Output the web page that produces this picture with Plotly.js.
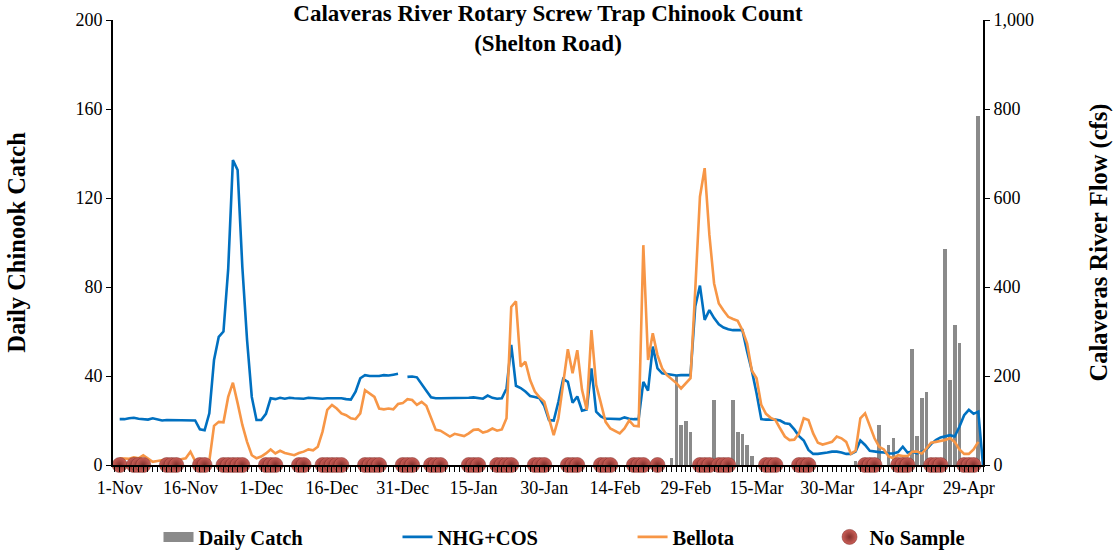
<!DOCTYPE html>
<html><head><meta charset="utf-8">
<script src="https://cdn.plot.ly/plotly-3.0.1.min.js"></script>
<style>html,body{margin:0;padding:0;background:#fff}#chart{width:1113px;height:550px}</style>
</head><body><div id="chart"></div>
<script>
// ---- Data ----
const startDate = '2019-11-01';

// Daily flow, NHG+COS gauge (cfs), one value per day from 1-Nov
const nhgCos = [
  103,103,105,106,104,103,102,105,103,100,
  101,101,101,100,101,101,100,80,78,116,
  236,288,300,440,685,663,445,281,153,101,
  101,115,150,148,151,149,151,150,150,149,
  151,150,150,149,150,150,150,150,148,147,
  165,195,202,200,200,200,202,201,203,205,
  null,198,199,197,183,167,152,150,150,150,
  150,150,150,150,151,152,150,149,156,151,
  149,150,172,270,178,173,165,155,153,150,
  133,101,100,142,193,187,140,154,122,125,
  217,120,109,104,104,104,103,107,104,103,
  103,187,167,266,217,206,204,203,201,202,
  202,202,356,403,326,348,330,316,309,305,
  303,303,303,255,212,161,103,102,102,102,
  100,94,92,80,65,55,34,25,25,26,
  28,30,30,28,25,25,30,55,45,32,
  30,29,28,26,26,29,41,28,30,26,
  30,35,47,56,62,64,67,64,86,112,
  124,115,120,0
];

// Daily flow, Bellota gauge (cfs)
const bellota = [
  15,15,14,17,15,22,15,7,9,11,
  13,11,9,13,15,30,9,7,9,9,
  88,97,96,153,185,139,90,52,22,15,
  19,26,35,26,32,27,25,22,27,30,
  35,33,41,75,124,135,127,116,112,105,
  103,116,168,160,153,127,125,127,125,137,
  139,148,146,135,142,133,107,79,77,71,
  64,70,67,65,71,79,80,73,76,82,
  77,80,105,355,368,221,232,191,165,152,
  142,105,67,105,184,260,206,258,169,124,
  303,180,139,97,82,76,71,82,100,88,
  87,494,236,296,247,217,202,193,184,172,
  184,195,393,603,667,517,408,363,347,333,
  328,324,303,273,212,195,135,115,106,101,
  82,64,56,57,71,105,101,71,50,46,
  49,52,64,60,52,25,32,105,116,86,
  60,41,35,19,15,22,20,20,30,30,
  26,37,50,52,54,56,60,52,35,25,
  25,35,52
];

// Daily Chinook catch (fish)
const catchDates = [
  '2020-02-26','2020-02-27','2020-02-28','2020-02-29','2020-03-01',
  '2020-03-06','2020-03-10','2020-03-11','2020-03-12','2020-03-13','2020-03-14',
  '2020-04-05','2020-04-10','2020-04-12','2020-04-13',
  '2020-04-17','2020-04-18','2020-04-19','2020-04-20',
  '2020-04-24','2020-04-25','2020-04-26','2020-04-27','2020-05-01'
];
const catchValues = [
  3,40,18,20,15,
  29,29,15,14,9,4,
  2,18,9,12,
  52,13,30,33,
  97,38,63,55,157
];

// Days with no sample
const noSampleDates = [
  '2019-11-01','2019-11-04','2019-11-05','2019-11-06',
  '2019-11-11','2019-11-12','2019-11-13','2019-11-18','2019-11-19',
  '2019-11-23','2019-11-24','2019-11-25','2019-11-26','2019-11-27',
  '2019-12-02','2019-12-03','2019-12-04','2019-12-09','2019-12-10',
  '2019-12-14','2019-12-15','2019-12-16','2019-12-17','2019-12-18',
  '2019-12-23','2019-12-24','2019-12-25','2019-12-26',
  '2019-12-31','2020-01-01','2020-01-02',
  '2020-01-06','2020-01-07','2020-01-08',
  '2020-01-14','2020-01-15','2020-01-16',
  '2020-01-20','2020-01-21','2020-01-22','2020-01-23',
  '2020-01-28','2020-01-29','2020-01-30',
  '2020-02-04','2020-02-05','2020-02-06',
  '2020-02-11','2020-02-12','2020-02-13',
  '2020-02-18','2020-02-19','2020-02-20','2020-02-23',
  '2020-03-03','2020-03-04','2020-03-05','2020-03-07','2020-03-08','2020-03-09',
  '2020-03-17','2020-03-18','2020-03-19',
  '2020-03-24','2020-03-25','2020-03-26',
  '2020-04-07','2020-04-08','2020-04-09',
  '2020-04-14','2020-04-15','2020-04-16',
  '2020-04-21','2020-04-22','2020-04-23',
  '2020-04-28','2020-04-29','2020-04-30'
];

const tickDates = ['2019-11-01','2019-11-16','2019-12-01','2019-12-16','2019-12-31','2020-01-15',
  '2020-01-30','2020-02-14','2020-02-29','2020-03-15','2020-03-30','2020-04-14','2020-04-29'];
const tickLabels = ['1-Nov','16-Nov','1-Dec','16-Dec','31-Dec','15-Jan','30-Jan','14-Feb',
  '29-Feb','15-Mar','30-Mar','14-Apr','29-Apr'];

// ---- Build daily date categories ----
function dayString(offset) {
  const p = startDate.split('-').map(Number);
  const d = new Date(Date.UTC(p[0], p[1] - 1, p[2] + offset));
  return d.toISOString().slice(0, 10);
}
const flowDates = nhgCos.map((_, i) => dayString(i));
const bellotaDates = bellota.map((_, i) => dayString(i));

const FONT = 'Liberation Serif, Times New Roman, serif';
const DAY = 86400000;

const traces = [
  {
    type: 'bar', name: 'Daily Catch', x: catchDates, y: catchValues, yaxis: 'y',
    width: 0.78 * DAY, marker: { color: '#8a8a8a', line: { width: 0 } },
    showlegend: false
  },
  {
    // legend entry for the bars (wide grey swatch as in the reference)
    type: 'scatter', mode: 'lines', name: 'Daily Catch', x: [null], y: [null], yaxis: 'y',
    line: { color: '#8a8a8a', width: 10 }, legend: 'legend', hoverinfo: 'skip'
  },
  {
    type: 'scatter', mode: 'lines', name: 'NHG+COS', x: flowDates, y: nhgCos, yaxis: 'y2',
    line: { color: '#0070c0', width: 2.6 }, connectgaps: false, legend: 'legend2'
  },
  {
    type: 'scatter', mode: 'lines', name: 'Bellota', x: bellotaDates, y: bellota, yaxis: 'y2',
    line: { color: '#f79646', width: 2.6 }, legend: 'legend3'
  },
  {
    type: 'scatter', mode: 'markers', name: 'No Sample', x: noSampleDates,
    y: noSampleDates.map(() => 0), yaxis: 'y2', cliponaxis: false,
    marker: { size: 15, color: '#cc5f58', gradient: { type: 'radial', color: '#82302c' },
              line: { width: 0.5, color: '#7a2c28' } },
    legend: 'legend4'
  }
];

const legendBase = (x) => ({
  x: x, y: -0.162, xanchor: 'left', yanchor: 'middle', orientation: 'h',
  bgcolor: 'rgba(0,0,0,0)', font: { family: FONT, size: 20.5, color: '#000', weight: 'bold' }
});

const layout = {
  width: 1113, height: 550,
  margin: { l: 113, r: 130, t: 20, b: 85, autoexpand: false },
  paper_bgcolor: '#fff', plot_bgcolor: '#fff',
  font: { family: FONT, color: '#000' },
  title: {
    text: 'Calaveras River Rotary Screw Trap Chinook Count<br>(Shelton Road)',
    font: { family: FONT, size: 23, color: '#000', weight: 'bold' },
    x: 0.5, xref: 'paper', xanchor: 'center', y: 0.962, yref: 'container', yanchor: 'top'
  },
  showlegend: true,
  legend: legendBase(0.0523),
  legend2: legendBase(0.327),
  legend3: legendBase(0.5972),
  legend4: legendBase(0.8236),
  bargap: 0,
  xaxis: {
    type: 'date', range: ['2019-10-30 14:00', '2020-05-02 00:00'],
    tickmode: 'array', tickvals: tickDates, ticktext: tickLabels,
    ticks: 'outside', ticklen: 5, tickwidth: 1, tickcolor: '#000',
    minor: { tickmode: 'linear', tick0: startDate, dtick: DAY, ticks: 'outside', ticklen: 5,
             tickwidth: 1, tickcolor: '#000', showgrid: false },
    showline: true, linecolor: '#000', linewidth: 2,
    showgrid: false, zeroline: false,
    tickfont: { family: FONT, size: 18, color: '#000' }
  },
  yaxis: {
    range: [0, 200], tickmode: 'linear', tick0: 0, dtick: 40,
    ticks: 'outside', ticklen: 5, tickwidth: 1, tickcolor: '#000',
    showline: true, linecolor: '#000', linewidth: 2,
    showgrid: false, zeroline: false,
    tickfont: { family: FONT, size: 18, color: '#000' },
    title: { text: 'Daily Chinook Catch', standoff: 43,
             font: { family: FONT, size: 24.5, color: '#000', weight: 'bold' } }
  },
  yaxis2: {
    range: [0, 1000], tickmode: 'linear', tick0: 0, dtick: 200, tickformat: ',d',
    overlaying: 'y', side: 'right',
    ticks: 'outside', ticklen: 5, tickwidth: 1, tickcolor: '#000',
    showline: true, linecolor: '#000', linewidth: 2,
    showgrid: false, zeroline: false,
    tickfont: { family: FONT, size: 18, color: '#000' },
    title: { text: 'Calaveras River Flow (cfs)', standoff: 57,
             font: { family: FONT, size: 24.5, color: '#000', weight: 'bold' } }
  }
};

Plotly.newPlot('chart', traces, layout, { displayModeBar: false, staticPlot: true });
</script>
</body></html>
